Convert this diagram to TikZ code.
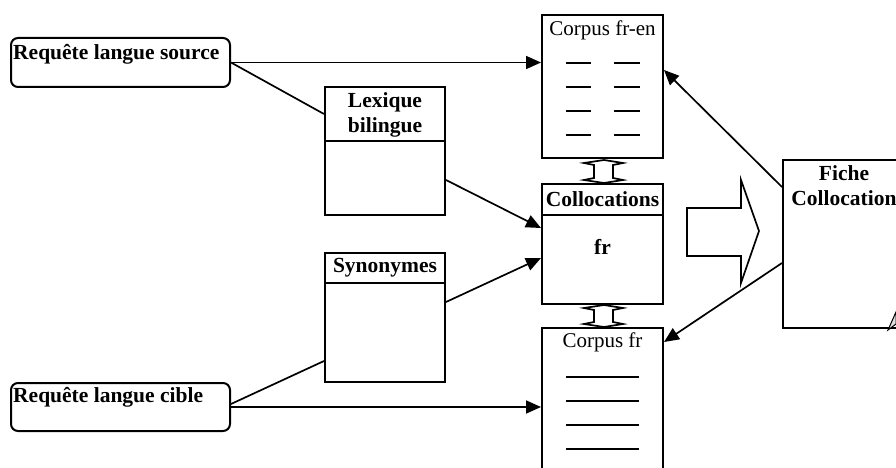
\documentclass[tikz,border=0pt]{standalone}
\usepackage{fontspec}
\setmainfont{Liberation Serif}
\usetikzlibrary{arrows.meta,calc}
\begin{document}
\begin{tikzpicture}[x=1pt,y=-1pt,
  every node/.style={font=\fontsize{21}{24}\selectfont},
  box/.style={draw,line width=2pt,inner sep=0pt},
  rbox/.style={box,rounded corners=7pt},
  btext/.style={font=\fontsize{21.5}{24}\selectfont\bfseries,inner sep=0pt,align=center},
  rtext/.style={font=\fontsize{21}{24}\selectfont,inner sep=0pt},
  conn/.style={line width=1.7pt},
  arr/.style={conn,-{Triangle[length=15pt,width=13pt]}},
  dashline/.style={line width=1.8pt},
  blk/.style={draw,line width=1.7pt,fill=white,line join=miter}
]
\useasboundingbox (0,0) rectangle (896,468);

% boxes
\node[rbox,minimum width=219pt,minimum height=49pt] (rs) at (120.5,62.5) {};
\node[btext,anchor=west] (rst) at (13,54) {Requête langue source};
\node[rbox,minimum width=219pt,minimum height=48pt] (rc) at (120.5,407) {};
\node[btext,anchor=west] (rct) at (13,397) {Requête langue cible};

\node[box,minimum width=120pt,minimum height=128pt] (lex) at (385,151) {};
\node[btext] (lext) at (385,114.5) {Lexique\\[1pt]bilingue};
\draw[line width=2pt] ($(lex.north west)+(0,55)$) coordinate (lexa) -- (lexa -| lex.east);

\node[box,minimum width=120pt,minimum height=129pt] (syn) at (385,317.5) {};
\node[btext] (synt) at (385,268) {Synonymes};
\draw[line width=2pt] ($(syn.north west)+(0,31)$) coordinate (syna) -- (syna -| syn.east);

\node[box,minimum width=121pt,minimum height=143pt] (cfren) at (602.5,86.5) {};
\node[rtext] (cfrent) at (602.5,30) {Corpus fr-en};
\foreach \yy in {63,87,111,135}{
  \draw[dashline] (566,\yy) -- (591,\yy);
  \draw[dashline] (614,\yy) -- (640,\yy);
}

\node[box,minimum width=121pt,minimum height=120pt] (coll) at (602.5,244) {};
\node[btext] (collt) at (602.5,199) {Collocations};
\draw[line width=2pt] ($(coll.north west)+(0,32)$) coordinate (colla) -- (colla -| coll.east);
\node[btext] (fr) at (602.5,247) {fr};

\node[box,minimum width=121pt,minimum height=152pt] (cfr) at (602.5,404) {};
\node[rtext] (cfrt) at (602.5,342) {Corpus fr};
\foreach \yy in {377,401,425,449}{
  \draw[dashline] (566,\yy) -- (639,\yy);
}

\node[box,minimum width=122pt,minimum height=168pt] (fiche) at (844,244) {};
\node[btext] (fichet) at (844,185.5) {Fiche\\[1pt]Collocation};
\draw[line width=1pt,fill=gray!25] (888,330) -- (896,312) -- (896,324) -- cycle;

% double block arrows
\draw[blk] (604,160) -- (623,163) -- (613,165) -- (613,178) -- (623,180) -- (604,183)
  -- (584,180) -- (594,178) -- (594,165) -- (584,163) -- cycle;
\draw[blk] (604,305) -- (623,308) -- (613,310) -- (613,322) -- (623,324) -- (604,327)
  -- (584,324) -- (594,322) -- (594,310) -- (584,308) -- cycle;

% big right arrow
\draw[blk] (687,208) -- (741,208) -- (741,180) -- (759,231) -- (741,283) -- (741,256) -- (687,256) -- cycle;

% connectors
\draw[arr] (rs.east) -- (rs.east -| cfren.west);
\draw[conn] (rs.east) -- ($(lex.north west)+(0,28)$);
\draw[arr] ($(lex.east)+(0,29)$) -- ($(coll.west)+(0,-16)$);
\draw[arr] ($(syn.east)+(0,-15.5)$) -- ($(coll.west)+(0,14)$);
\draw[conn] ($(rc.east)+(0,-3)$) -- ($(syn.south west)+(0,-22)$);
\draw[arr] (rc.east) -- (rc.east -| cfr.west);
\draw[arr] ($(fiche.west)+(0,-57)$) -- ($(cfren.east)+(0,-16.5)$);
\draw[arr] ($(fiche.west)+(0,19)$) -- ($(cfr.north east)+(0,15)$);
\end{tikzpicture}
\end{document}
